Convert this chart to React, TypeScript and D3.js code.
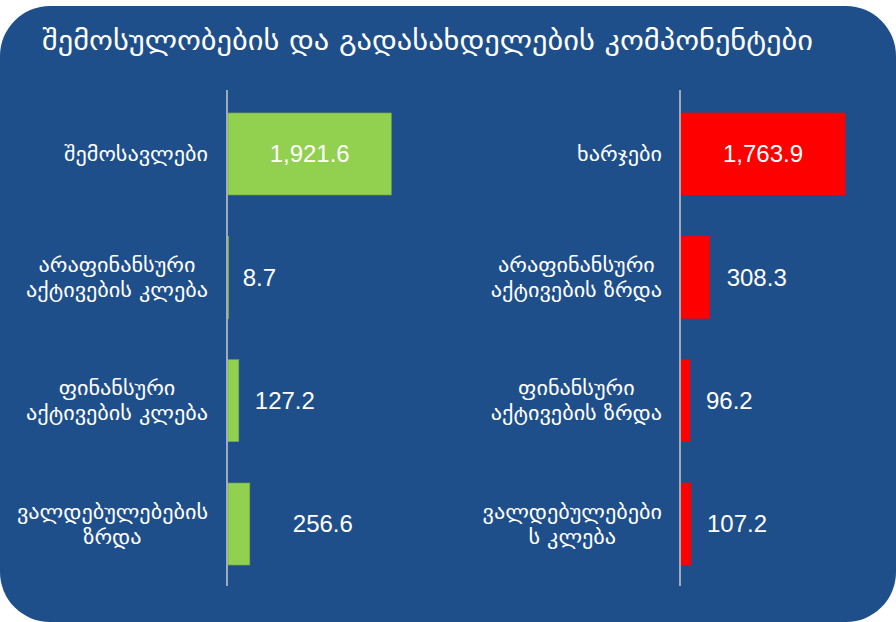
import React, { useEffect, useRef } from "react";
import * as d3 from "d3";

const TITLE = "შემოსულობების და გადასახდელების კომპონენტები";

const leftCategories = [
  ["შემოსავლები"],
  ["არაფინანსური", "აქტივების კლება"],
  ["ფინანსური", "აქტივების კლება"],
  ["ვალდებულებების", "ზრდა"],
];
const leftValues = [1921.6, 8.7, 127.2, 256.6];
const leftLabelInside = [true, false, false, false];
const leftLabelDx = [0, 14, 16, 43];

const rightCategories = [
  ["ხარჯები"],
  ["არაფინანსური", "აქტივების ზრდა"],
  ["ფინანსური", "აქტივების ზრდა"],
  ["ვალდებულებები", "ს კლება"],
];
const rightValues = [1763.9, 308.3, 96.2, 107.2];
const rightLabelInside = [true, false, false, false];
const rightLabelDx = [0, 17, 16, 16];

const BG = "#1F4F8A";
const GEO_FONT = "'DejaVu Sans', sans-serif";
const NUM_FONT = "'Liberation Sans', Arial, sans-serif";
const STRETCH = 1.11;
const TITLE_STRETCH = 1.085;

export default function App() {
  const ref = useRef<SVGSVGElement | null>(null);

  useEffect(() => {
    const svg = d3.select(ref.current);
    svg.selectAll("*").remove();

    svg
      .append("rect")
      .attr("x", 0)
      .attr("y", 6)
      .attr("width", 896)
      .attr("height", 616)
      .attr("rx", 50)
      .attr("ry", 50)
      .attr("fill", BG);

    const title = svg
      .append("text")
      .attr("x", 42)
      .attr("y", 50)
      .attr("fill", "#fff")
      .style("font-family", GEO_FONT)
      .style("font-size", "28px")
      .text(TITLE);
    const tw = (title.node() as SVGTextElement).getComputedTextLength();
    title.attr("textLength", tw * TITLE_STRETCH).attr("lengthAdjust", "spacingAndGlyphs");

    const fmt = d3.format(",.1f");

    const panel = (
      cats: string[][],
      vals: number[],
      inside: boolean[],
      dx: number[],
      axisX: number,
      labelRight: number,
      width: number,
      color: string,
      stroke: string
    ) => {
      const g = svg.append("g");
      const keys = cats.map((c) => c.join(" "));
      const y = d3.scaleBand<string>().domain(keys).range([92, 586]).paddingInner(0.335).paddingOuter(0.17);
      const x = d3.scaleLinear().domain([0, 2000]).range([axisX + 1, axisX + 1 + width]);

      g.selectAll("rect.bar")
        .data(vals)
        .enter()
        .append("rect")
        .attr("x", x(0))
        .attr("y", (_, i) => y(keys[i]) as number)
        .attr("width", (d) => x(d) - x(0))
        .attr("height", y.bandwidth())
        .attr("fill", color)
        .attr("stroke", stroke)
        .attr("stroke-width", 0.6);

      g.append("line")
        .attr("x1", axisX)
        .attr("x2", axisX)
        .attr("y1", 90)
        .attr("y2", 586)
        .attr("stroke", "#C8C8C8")
        .attr("stroke-width", 1.5);

      vals.forEach((v, i) => {
        const cy = (y(keys[i]) as number) + y.bandwidth() / 2;
        const t = g
          .append("text")
          .attr("y", cy)
          .attr("dy", "0.35em")
          .attr("fill", "#fff")
          .style("font-family", NUM_FONT)
          .style("font-size", "24px")
          .text(fmt(v));
        if (inside[i]) {
          t.attr("x", (x(0) + x(v)) / 2).attr("text-anchor", "middle");
        } else {
          t.attr("x", x(v) + dx[i]).attr("text-anchor", "start");
        }
      });

      cats.forEach((lines, i) => {
        const cy = (y(keys[i]) as number) + y.bandwidth() / 2;
        const lh = 25;
        const y0 = cy - ((lines.length - 1) * lh) / 2;
        const texts = lines.map((ln, k) =>
          g
            .append("text")
            .attr("fill", "#fff")
            .attr("text-anchor", "middle")
            .attr("y", y0 + k * lh)
            .attr("dy", "0.35em")
            .style("font-family", GEO_FONT)
            .style("font-size", "20px")
            .text(ln)
        );
        let maxW = 0;
        texts.forEach((t) => {
          const w = (t.node() as SVGTextElement).getComputedTextLength() * STRETCH;
          t.attr("textLength", w).attr("lengthAdjust", "spacingAndGlyphs");
          maxW = Math.max(maxW, w);
        });
        const cx = labelRight - maxW / 2;
        texts.forEach((t) => t.attr("x", cx));
      });
    };

    panel(leftCategories, leftValues, leftLabelInside, leftLabelDx, 227, 208, 170, "#92D050", "#6FA83A");
    panel(rightCategories, rightValues, rightLabelInside, rightLabelDx, 680, 662, 186, "#FF0000", "#FF0000");
  }, []);

  return (
    <svg
      ref={ref}
      width={896}
      height={622}
      style={{ position: "absolute", left: 0, top: 0, background: "#fff" }}
    />
  );
}
